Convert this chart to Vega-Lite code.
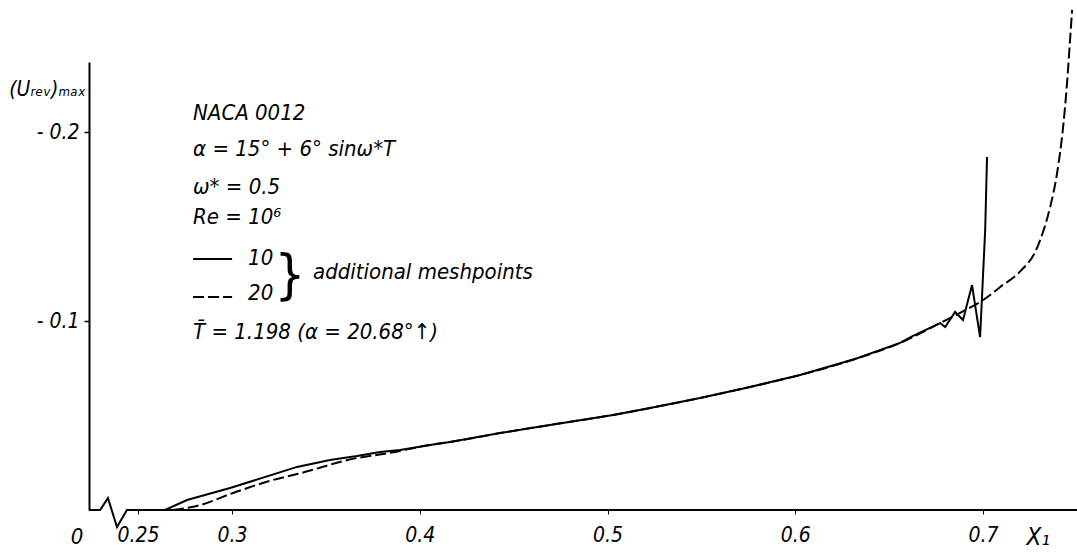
{
  "$schema": "https://vega.github.io/schema/vega-lite/v6.json",
  "width": 988,
  "height": 448,
  "autosize": {"type": "none"},
  "padding": {"left": 89, "top": 62, "right": 0, "bottom": 43},
  "background": "white",
  "config": {
    "view": {"stroke": null},
    "font": "DejaVu Sans Condensed, Roboto, sans-serif",
    "text": {"font": "DejaVu Sans Condensed, Roboto, sans-serif", "fontStyle": "italic", "fontSize": 22, "color": "black"},
    "axis": {"labelFont": "DejaVu Sans Condensed, Roboto, sans-serif", "labelFontStyle": "italic", "labelFontSize": 21, "labelColor": "black", "domainColor": "black", "tickColor": "black", "grid": false, "title": null}
  },
  "datasets": {
    "curves": [
      {"series": "axis", "x": 0.2239, "y": 0},
      {"series": "axis", "x": 0.2298, "y": 0},
      {"series": "axis", "x": 0.2340, "y": -0.0063},
      {"series": "axis", "x": 0.2388, "y": 0.0090},
      {"series": "axis", "x": 0.2441, "y": 0},
      {"series": "axis", "x": 0.7500, "y": 0},

      {"series": "mesh10", "x": 0.2644, "y": 0},
      {"series": "mesh10", "x": 0.2761, "y": -0.0053},
      {"series": "mesh10", "x": 0.2990, "y": -0.0116},
      {"series": "mesh10", "x": 0.3347, "y": -0.0228},
      {"series": "mesh10", "x": 0.3522, "y": -0.0265},
      {"series": "mesh10", "x": 0.3666, "y": -0.0286},
      {"series": "mesh10", "x": 0.3789, "y": -0.0307},
      {"series": "mesh10", "x": 0.3895, "y": -0.0317},
      {"series": "mesh10", "x": 0.4055, "y": -0.0344},
      {"series": "mesh10", "x": 0.4162, "y": -0.0360},
      {"series": "mesh10", "x": 0.4428, "y": -0.0407},
      {"series": "mesh10", "x": 0.4694, "y": -0.0450},
      {"series": "mesh10", "x": 0.5030, "y": -0.0503},
      {"series": "mesh10", "x": 0.5227, "y": -0.0540},
      {"series": "mesh10", "x": 0.5493, "y": -0.0593},
      {"series": "mesh10", "x": 0.5759, "y": -0.0651},
      {"series": "mesh10", "x": 0.6025, "y": -0.0714},
      {"series": "mesh10", "x": 0.6318, "y": -0.0799},
      {"series": "mesh10", "x": 0.6558, "y": -0.0884},
      {"series": "mesh10", "x": 0.6627, "y": -0.0921},
      {"series": "mesh10", "x": 0.6771, "y": -0.0989},
      {"series": "mesh10", "x": 0.6798, "y": -0.0968},
      {"series": "mesh10", "x": 0.6851, "y": -0.1048},
      {"series": "mesh10", "x": 0.6893, "y": -0.1005},
      {"series": "mesh10", "x": 0.6941, "y": -0.1190},
      {"series": "mesh10", "x": 0.6984, "y": -0.0915},
      {"series": "mesh10", "x": 0.7011, "y": -0.1481},
      {"series": "mesh10", "x": 0.7021, "y": -0.1868},

      {"series": "mesh20", "x": 0.2686, "y": 0},
      {"series": "mesh20", "x": 0.2830, "y": -0.0026},
      {"series": "mesh20", "x": 0.3006, "y": -0.0090},
      {"series": "mesh20", "x": 0.3219, "y": -0.0159},
      {"series": "mesh20", "x": 0.3347, "y": -0.0190},
      {"series": "mesh20", "x": 0.3666, "y": -0.0275},
      {"series": "mesh20", "x": 0.3805, "y": -0.0296},
      {"series": "mesh20", "x": 0.4055, "y": -0.0344},
      {"series": "mesh20", "x": 0.4162, "y": -0.0360},
      {"series": "mesh20", "x": 0.4428, "y": -0.0407},
      {"series": "mesh20", "x": 0.4694, "y": -0.0450},
      {"series": "mesh20", "x": 0.5030, "y": -0.0503},
      {"series": "mesh20", "x": 0.5227, "y": -0.0540},
      {"series": "mesh20", "x": 0.5493, "y": -0.0593},
      {"series": "mesh20", "x": 0.5759, "y": -0.0651},
      {"series": "mesh20", "x": 0.6025, "y": -0.0714},
      {"series": "mesh20", "x": 0.6318, "y": -0.0799},
      {"series": "mesh20", "x": 0.6558, "y": -0.0884},
      {"series": "mesh20", "x": 0.6771, "y": -0.0989},
      {"series": "mesh20", "x": 0.6890, "y": -0.1050},
      {"series": "mesh20", "x": 0.7000, "y": -0.1111},
      {"series": "mesh20", "x": 0.7091, "y": -0.1180},
      {"series": "mesh20", "x": 0.7200, "y": -0.1265},
      {"series": "mesh20", "x": 0.7277, "y": -0.1365},
      {"series": "mesh20", "x": 0.7319, "y": -0.1471},
      {"series": "mesh20", "x": 0.7357, "y": -0.1603},
      {"series": "mesh20", "x": 0.7394, "y": -0.1783},
      {"series": "mesh20", "x": 0.7426, "y": -0.2026},
      {"series": "mesh20", "x": 0.7447, "y": -0.2259},
      {"series": "mesh20", "x": 0.7463, "y": -0.2487},
      {"series": "mesh20", "x": 0.7474, "y": -0.2646},

      {"series": "legend10", "x": 0.2793, "y": -0.1328},
      {"series": "legend10", "x": 0.3001, "y": -0.1328},
      {"series": "legend20", "x": 0.2793, "y": -0.1127},
      {"series": "legend20", "x": 0.3001, "y": -0.1127}
    ],
    "notes": [
      {"x": 0.2793, "y": -0.2101, "text": "NACA 0012"},
      {"x": 0.2793, "y": -0.1910, "text": "α = 15° + 6° sinω*T"},
      {"x": 0.2793, "y": -0.1709, "text": "ω* = 0.5"},
      {"x": 0.2793, "y": -0.1550, "text": "Re  =  10⁶"},
      {"x": 0.3086, "y": -0.1333, "text": "10"},
      {"x": 0.3086, "y": -0.1148, "text": "20"},
      {"x": 0.3432, "y": -0.1259, "text": "additional meshpoints"},
      {"x": 0.2793, "y": -0.0942, "text": "T̄ = 1.198  (α = 20.68°↑)"}
    ]
  },
  "layer": [
    {
      "data": {"name": "curves"},
      "transform": [{"filter": "datum.series == 'axis'"}],
      "mark": {"type": "line", "color": "black", "strokeWidth": 2},
      "encoding": {
        "x": {
          "field": "x", "type": "quantitative",
          "scale": {"domain": [0.2239, 0.75], "nice": false, "zero": false},
          "axis": {"domain": false, "values": [0.25, 0.3, 0.4, 0.5, 0.6, 0.7], "tickSize": 4, "labelPadding": 10, "labelExpr": "'' + datum.value"}
        },
        "y": {
          "field": "y", "type": "quantitative",
          "scale": {"domain": [-0.23704, 0], "nice": false, "zero": false, "reverse": true},
          "axis": {"domainWidth": 2, "values": [-0.2, -0.1], "tickSize": 5, "tickWidth": 1.5, "labelPadding": 5, "labelExpr": "'- ' + format(-datum.value, '.1f')"}
        }
      }
    },
    {
      "data": {"name": "curves"},
      "transform": [{"filter": "datum.series == 'mesh10' || datum.series == 'legend10'"}],
      "mark": {"type": "line", "color": "black", "strokeWidth": 2},
      "encoding": {
        "x": {"field": "x", "type": "quantitative"},
        "y": {"field": "y", "type": "quantitative"},
        "detail": {"field": "series"}
      }
    },
    {
      "data": {"name": "curves"},
      "transform": [{"filter": "datum.series == 'mesh20' || datum.series == 'legend20'"}],
      "mark": {"type": "line", "color": "black", "strokeWidth": 2, "strokeDash": [11, 4], "interpolate": "monotone"},
      "encoding": {
        "x": {"field": "x", "type": "quantitative"},
        "y": {"field": "y", "type": "quantitative"},
        "detail": {"field": "series"}
      }
    },
    {
      "data": {"name": "notes"},
      "mark": {"type": "text", "align": "left", "baseline": "middle"},
      "encoding": {
        "x": {"field": "x", "type": "quantitative"},
        "y": {"field": "y", "type": "quantitative"},
        "text": {"field": "text"}
      }
    },
    {
      "data": {"values": [{"x": 0.3309, "y": -0.1233, "text": "}"}]},
      "mark": {"type": "text", "align": "center", "baseline": "middle", "fontSize": 54, "fontStyle": "normal", "fontWeight": 300},
      "encoding": {
        "x": {"field": "x", "type": "quantitative"},
        "y": {"field": "y", "type": "quantitative"},
        "text": {"field": "text"}
      }
    },
    {
      "data": {"values": [{"x": 0.2239, "y": -0.2222, "text": "(Uᵣₑᵥ)ₘₐₓ"}]},
      "mark": {"type": "text", "align": "right", "baseline": "middle", "dx": -3, "fontSize": 21},
      "encoding": {
        "x": {"field": "x", "type": "quantitative"},
        "y": {"field": "y", "type": "quantitative"},
        "text": {"field": "text"}
      }
    },
    {
      "data": {"values": [{"x": 0.2239, "y": 0, "text": "0"}]},
      "mark": {"type": "text", "align": "center", "baseline": "middle", "dx": -12, "dy": 27},
      "encoding": {
        "x": {"field": "x", "type": "quantitative"},
        "y": {"field": "y", "type": "quantitative"},
        "text": {"field": "text"}
      }
    },
    {
      "data": {"values": [{"x": 0.7293, "y": 0, "text": "X₁"}]},
      "mark": {"type": "text", "align": "center", "baseline": "middle", "dy": 28, "fontSize": 24},
      "encoding": {
        "x": {"field": "x", "type": "quantitative"},
        "y": {"field": "y", "type": "quantitative"},
        "text": {"field": "text"}
      }
    }
  ]
}
